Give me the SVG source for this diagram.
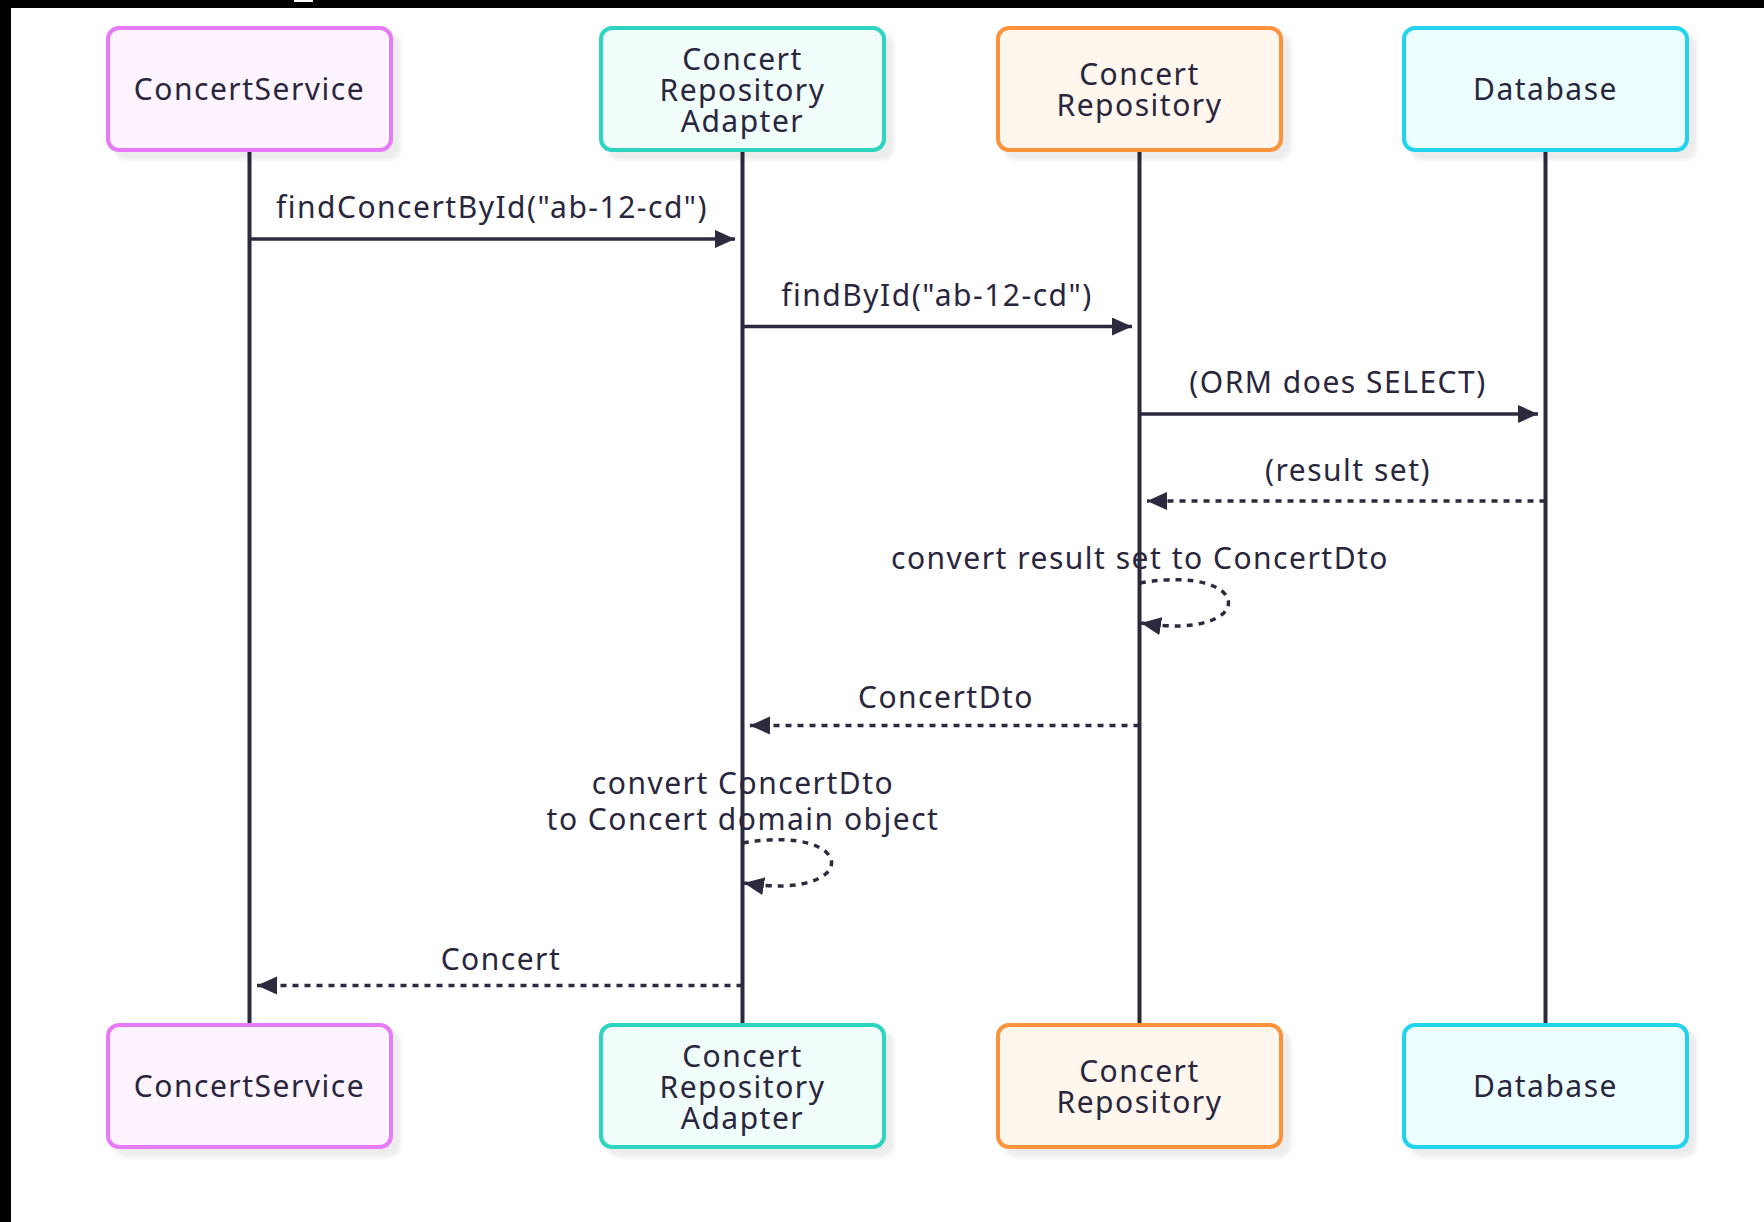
<svg xmlns="http://www.w3.org/2000/svg" width="1764" height="1222" viewBox="0 0 1764 1222">
<style>
  .t { font-family: "Noto Sans", "DejaVu Sans", sans-serif; font-size: 30px; letter-spacing: 1.5px; fill: #29263d; text-anchor: middle; }
  .life { stroke: #2b2a3e; stroke-width: 4; fill: none; }
  .msg { stroke: #2b2a3e; stroke-width: 3.5; fill: none; }
  .dash { stroke-dasharray: 6 6; }
  .shadow { fill: #000; opacity: 0.07; }
  .svc { fill: #fdf4ff; stroke: #e879f9; stroke-width: 4; }
  .adp { fill: #f0fdfa; stroke: #2dd4bf; stroke-width: 4; }
  .rep { fill: #fff7ed; stroke: #fb923c; stroke-width: 4; }
  .db { fill: #ecfeff; stroke: #22d3ee; stroke-width: 4; }
</style>
<defs>
  <marker id="arr" markerUnits="userSpaceOnUse" markerWidth="22" markerHeight="20" refX="20" refY="9" orient="auto">
    <path d="M0,0 L20,9 L0,18 Z" fill="#2b2a3e"/>
  </marker>
  <filter id="blur" x="-10%" y="-10%" width="120%" height="120%">
    <feGaussianBlur stdDeviation="2"/>
  </filter>
</defs>
<rect x="0" y="0" width="1764" height="1222" fill="#ffffff"/>
<rect x="0" y="0" width="1764" height="8" fill="#000"/>
<rect x="0" y="0" width="11" height="1222" fill="#000"/>
<rect x="294" y="0" width="19" height="2" fill="#fff"/>

<g id="lifelines">
  <line class="life" x1="249.5" y1="152" x2="249.5" y2="1024"/>
  <line class="life" x1="742.5" y1="152" x2="742.5" y2="1024"/>
  <line class="life" x1="1139.5" y1="152" x2="1139.5" y2="1024"/>
  <line class="life" x1="1545.5" y1="152" x2="1545.5" y2="1024"/>
</g>

<g id="ConcertService-top">
  <rect class="shadow" filter="url(#blur)" x="114" y="34" width="287" height="126" rx="12"/>
  <rect class="svc" x="108" y="28" width="283" height="122" rx="11"/>
  <text class="t" x="249.5" y="100">ConcertService</text>
</g>
<g id="Adapter-top">
  <rect class="shadow" filter="url(#blur)" x="607" y="34" width="287" height="126" rx="12"/>
  <rect class="adp" x="601" y="28" width="283" height="122" rx="11"/>
  <text class="t" x="742.5" y="70">Concert</text>
  <text class="t" x="742.5" y="101">Repository</text>
  <text class="t" x="742.5" y="132">Adapter</text>
</g>
<g id="Repository-top">
  <rect class="shadow" filter="url(#blur)" x="1004" y="34" width="287" height="126" rx="12"/>
  <rect class="rep" x="998" y="28" width="283" height="122" rx="11"/>
  <text class="t" x="1139.5" y="85">Concert</text>
  <text class="t" x="1139.5" y="116">Repository</text>
</g>
<g id="Database-top">
  <rect class="shadow" filter="url(#blur)" x="1410" y="34" width="287" height="126" rx="12"/>
  <rect class="db" x="1404" y="28" width="283" height="122" rx="11"/>
  <text class="t" x="1545.5" y="100">Database</text>
</g>

<g id="ConcertService-bottom">
  <rect class="shadow" filter="url(#blur)" x="114" y="1031" width="287" height="126" rx="12"/>
  <rect class="svc" x="108" y="1025" width="283" height="122" rx="11"/>
  <text class="t" x="249.5" y="1097">ConcertService</text>
</g>
<g id="Adapter-bottom">
  <rect class="shadow" filter="url(#blur)" x="607" y="1031" width="287" height="126" rx="12"/>
  <rect class="adp" x="601" y="1025" width="283" height="122" rx="11"/>
  <text class="t" x="742.5" y="1067">Concert</text>
  <text class="t" x="742.5" y="1098">Repository</text>
  <text class="t" x="742.5" y="1129">Adapter</text>
</g>
<g id="Repository-bottom">
  <rect class="shadow" filter="url(#blur)" x="1004" y="1031" width="287" height="126" rx="12"/>
  <rect class="rep" x="998" y="1025" width="283" height="122" rx="11"/>
  <text class="t" x="1139.5" y="1082">Concert</text>
  <text class="t" x="1139.5" y="1113">Repository</text>
</g>
<g id="Database-bottom">
  <rect class="shadow" filter="url(#blur)" x="1410" y="1031" width="287" height="126" rx="12"/>
  <rect class="db" x="1404" y="1025" width="283" height="122" rx="11"/>
  <text class="t" x="1545.5" y="1097">Database</text>
</g>

<g id="connectors">
  <line class="msg" x1="249.5" y1="239" x2="735" y2="239" marker-end="url(#arr)"/>
  <text class="t" x="492" y="218">findConcertById("ab-12-cd")</text>

  <line class="msg" x1="742.5" y1="326.5" x2="1132" y2="326.5" marker-end="url(#arr)"/>
  <text class="t" x="937" y="305.5">findById("ab-12-cd")</text>

  <line class="msg" x1="1139.5" y1="414" x2="1538" y2="414" marker-end="url(#arr)"/>
  <text class="t" x="1338" y="393">(ORM does SELECT)</text>

  <line class="msg dash" x1="1545.5" y1="501" x2="1147" y2="501" marker-end="url(#arr)"/>
  <text class="t" x="1348" y="481">(result set)</text>

  <text class="t" x="1140" y="569">convert result set to ConcertDto</text>
  <path class="msg dash" d="M1139.5,583 C1258,563 1258,642 1141,623" marker-end="url(#arr)"/>

  <line class="msg dash" x1="1139.5" y1="725.5" x2="750" y2="725.5" marker-end="url(#arr)"/>
  <text class="t" x="946" y="708">ConcertDto</text>

  <text class="t" x="743" y="794">convert ConcertDto</text>
  <text class="t" x="743" y="830">to Concert domain object</text>
  <path class="msg dash" d="M742.5,843 C861,823 861,902 744,883" marker-end="url(#arr)"/>

  <line class="msg dash" x1="742.5" y1="985.5" x2="257" y2="985.5" marker-end="url(#arr)"/>
  <text class="t" x="501" y="970">Concert</text>
</g>
</svg>
